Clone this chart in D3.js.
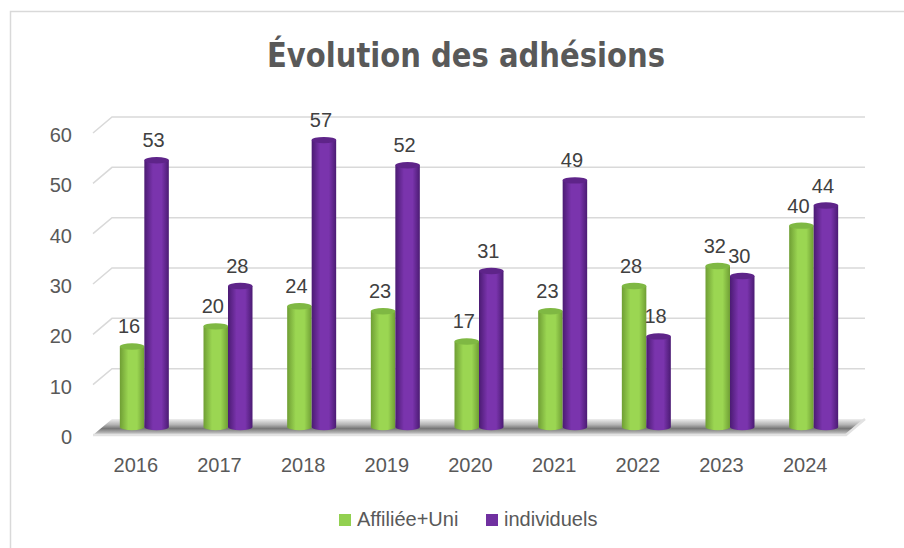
<!DOCTYPE html>
<html>
<head>
<meta charset="utf-8">
<script src="https://cdnjs.cloudflare.com/ajax/libs/d3/7.8.5/d3.min.js"></script>
<style>
    body { margin: 0; background: #fff; }
    text { font-family: "Liberation Sans", Arial, sans-serif; fill: #595959; }
</style>
</head>
<body>
<div id="chart"></div>
<script>
// data
let years = ["2016", "2017", "2018", "2019", "2020", "2021", "2022", "2023", "2024"];
let affiliee = [16, 20, 24, 23, 17, 23, 28, 32, 40];
let individuels = [53, 28, 57, 52, 31, 49, 18, 30, 44];
let seriesNames = ["Affiliée+Uni", "individuels"];
let yTicks = [0, 10, 20, 30, 40, 50, 60];

let width = 904, height = 548;

let svg = d3.select("#chart").append("svg")
    .attr("width", width)
    .attr("height", height);

svg.append("rect").attr("width", width).attr("height", height).attr("fill", "#fff");

// chart border
svg.append("rect")
    .attr("x", 10.5).attr("y", 11.5)
    .attr("width", 910).attr("height", 560)
    .attr("fill", "none")
    .attr("stroke", "#d9d9d9")
    .attr("stroke-width", 1.5);

// title
svg.append("text")
    .attr("x", 466)
    .attr("y", 67)
    .attr("text-anchor", "middle")
    .attr("textLength", 398)
    .attr("lengthAdjust", "spacingAndGlyphs")
    .style("font-family", "'Liberation Sans Narrow', 'DejaVu Sans Condensed', sans-serif")
    .style("font-size", "33px")
    .style("font-weight", "bold")
    .text("Évolution des adhésions");

// 3d depth offsets
let depthX = 19, depthY = -16;

// scales (front plane)
let x = d3.scaleBand().domain(years).range([93, 846]);
let y = d3.scaleLinear().domain([0, 60]).range([435, 133]);

let defs = svg.append("defs");

// floor gradient
let floorGrad = defs.append("linearGradient")
    .attr("id", "floorGrad")
    .attr("x1", 0).attr("y1", 0).attr("x2", 0).attr("y2", 1);
floorGrad.append("stop").attr("offset", "0%").attr("stop-color", "#eeeeee");
floorGrad.append("stop").attr("offset", "35%").attr("stop-color", "#b4b4b4");
floorGrad.append("stop").attr("offset", "60%").attr("stop-color", "#767676");
floorGrad.append("stop").attr("offset", "100%").attr("stop-color", "#d8d8d8");

// cylinder gradients
function cylGrad(id, dark, light) {
    let g = defs.append("linearGradient")
        .attr("id", id)
        .attr("x1", 0).attr("y1", 0).attr("x2", 1).attr("y2", 0);
    g.append("stop").attr("offset", "0%").attr("stop-color", dark);
    g.append("stop").attr("offset", "35%").attr("stop-color", light);
    g.append("stop").attr("offset", "70%").attr("stop-color", light);
    g.append("stop").attr("offset", "100%").attr("stop-color", dark);
}
cylGrad("gradGreen", "#6f9e34", "#9bd652");
cylGrad("gradPurple", "#4b1b73", "#7a34ad");

let colors = ["#92d050", "#7030a0"];
let fills = ["url(#gradGreen)", "url(#gradPurple)"];
let topFills = ["#7fb843", "#5e2489"];

// gridlines with back wall diagonal
let gridGroup = svg.append("g").attr("class", "grid");
yTicks.filter(t => t > 0).forEach(t => {
    let yf = y(t);
    gridGroup.append("path")
        .attr("d", "M" + x.range()[0] + "," + yf +
            " L" + (x.range()[0] + depthX) + "," + (yf + depthY) +
            " L" + (x.range()[1] + depthX) + "," + (yf + depthY))
        .attr("fill", "none")
        .attr("stroke", "#d9d9d9")
        .attr("stroke-width", 1.5);
});

// y labels
svg.append("g").selectAll("text")
    .data(yTicks)
    .enter().append("text")
    .attr("x", 72)
    .attr("y", d => y(d) + 2)
    .attr("dy", "0.35em")
    .attr("text-anchor", "end")
    .style("font-size", "20px")
    .text(d => d);

// floor
let x0 = x.range()[0], x1 = x.range()[1], y0 = y(0);
svg.append("path")
    .attr("d", "M" + x0 + "," + y0 + " L" + (x0 + depthX) + "," + (y0 + depthY) +
        " L" + (x1 + depthX) + "," + (y0 + depthY) + " L" + x1 + "," + y0 + "Z")
    .attr("fill", "url(#floorGrad)");
svg.append("path")
    .attr("d", "M" + x0 + "," + y0 + " L" + x1 + "," + y0 + " L" + (x1 + depthX) + "," + (y0 + depthY))
    .attr("fill", "none")
    .attr("stroke", "#e2e2e2")
    .attr("stroke-width", 2.5);

// bars at mid depth
let yMid = v => y(v) + depthY / 2;
let barW = 24.5, ry = 3.2;

let barGroup = svg.append("g").attr("class", "bars");
years.forEach((yr, i) => {
    let cx = x(yr) + x.bandwidth() / 2 + depthX / 2;
    [affiliee[i], individuels[i]].forEach((v, k) => {
        let bx = cx - barW + k * barW;
        let top = yMid(v), bottom = yMid(0);
        let rx = barW / 2;
        barGroup.append("path")
            .attr("d", "M" + bx + "," + top + " L" + bx + "," + bottom +
                " A" + rx + "," + ry + " 0 0 0 " + (bx + barW) + "," + bottom +
                " L" + (bx + barW) + "," + top + "Z")
            .attr("fill", fills[k]);
        barGroup.append("ellipse")
            .attr("cx", bx + rx)
            .attr("cy", top)
            .attr("rx", rx)
            .attr("ry", ry)
            .attr("fill", topFills[k]);
        // value label
        barGroup.append("text")
            .attr("x", bx + rx - 3)
            .attr("y", top - 13)
            .attr("text-anchor", "middle")
            .style("font-size", "20px")
            .style("fill", "#404040")
            .text(v);
    });
});

// x labels
svg.append("g").selectAll("text")
    .data(years)
    .enter().append("text")
    .attr("x", d => x(d) + x.bandwidth() / 2 + 1)
    .attr("y", 472)
    .attr("text-anchor", "middle")
    .style("font-size", "20px")
    .text(d => d);

// legend
let legendX = [339, 486];
let legend = svg.append("g").attr("class", "legend");
seriesNames.forEach((name, k) => {
    legend.append("rect")
        .attr("x", legendX[k])
        .attr("y", 514)
        .attr("width", 12)
        .attr("height", 12)
        .attr("fill", colors[k]);
    legend.append("text")
        .attr("x", legendX[k] + 18)
        .attr("y", 526)
        .style("font-size", "20px")
        .text(name);
});
</script>
</body>
</html>
